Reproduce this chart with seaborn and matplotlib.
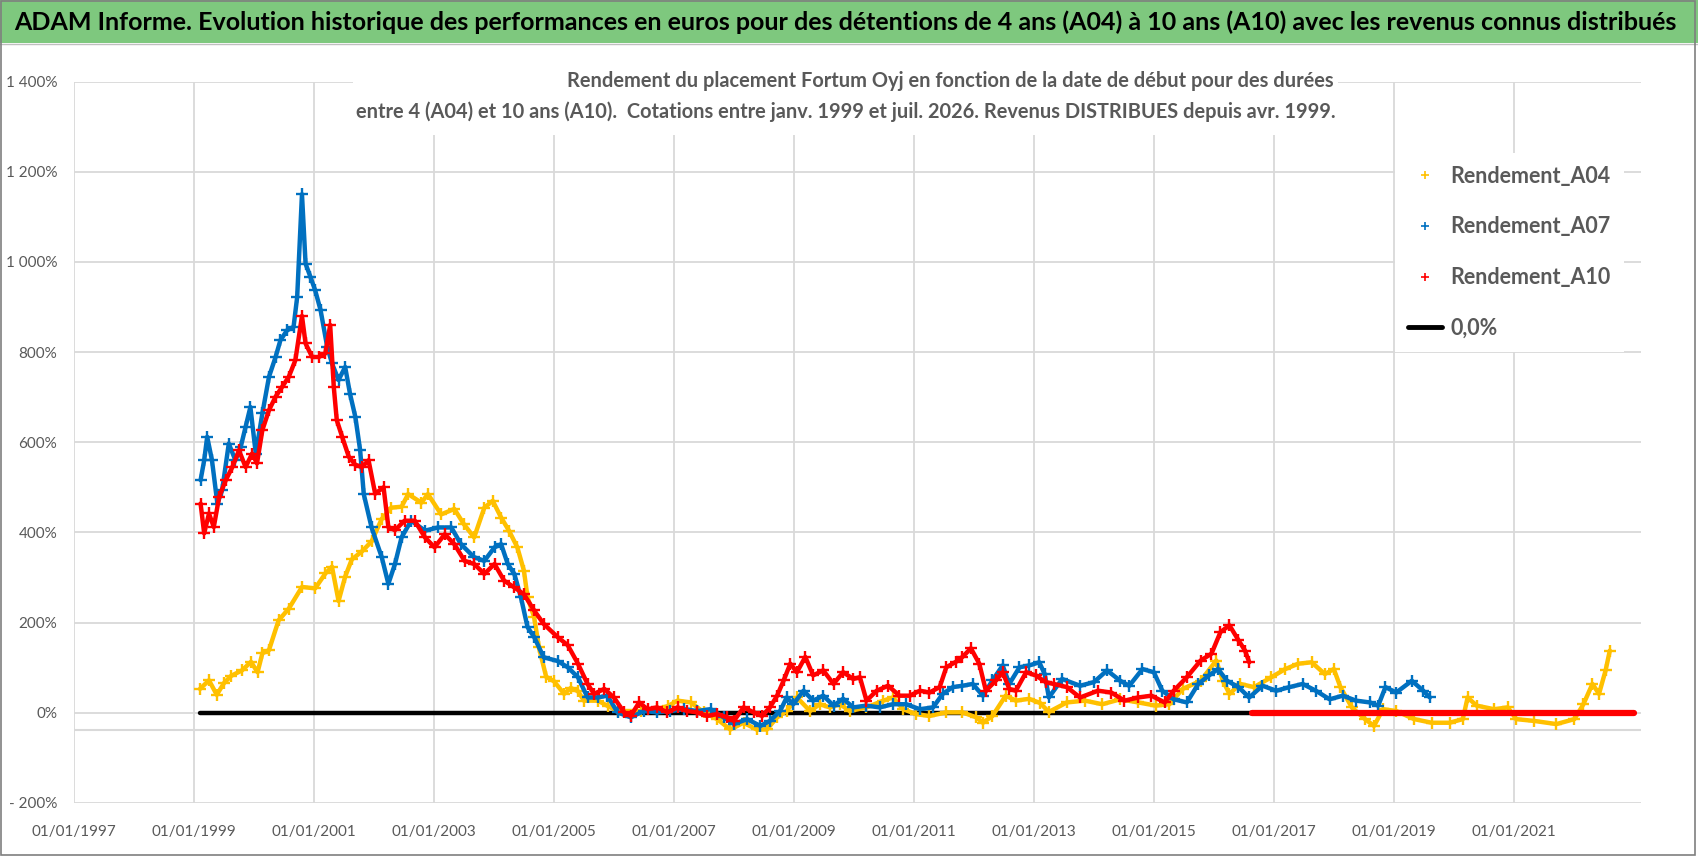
import numpy as np
import pandas as pd
import matplotlib
matplotlib.use("Agg")
import matplotlib.pyplot as plt
from matplotlib.lines import Line2D
from matplotlib.patches import Rectangle
from matplotlib.ticker import FuncFormatter
import seaborn as sns

# ---- data (x = decimal year of start date, y = return in %) ----
a04_dates = [1999.10, 1999.25, 1999.38, 1999.50, 1999.62, 1999.80, 1999.95, 2000.06, 2000.14, 2000.25,
             2000.41, 2000.58, 2000.80, 2001.02, 2001.19, 2001.30, 2001.41, 2001.52, 2001.63, 2001.80,
             2001.96, 2002.13, 2002.29, 2002.46, 2002.57, 2002.79, 2002.90, 2003.12, 2003.34, 2003.50,
             2003.67, 2003.84, 2003.98, 2004.12, 2004.25, 2004.39, 2004.50, 2004.56, 2004.67, 2004.75,
             2004.87, 2005.00, 2005.17, 2005.28, 2005.40, 2005.50, 2005.73, 2005.90, 2006.06, 2006.45,
             2006.72, 2006.90, 2007.06, 2007.28, 2007.50, 2007.72, 2007.94, 2008.16, 2008.38, 2008.55,
             2008.72, 2008.88, 2009.05, 2009.27, 2009.43, 2009.60, 2009.77, 2009.93, 2010.21, 2010.49,
             2010.65, 2010.82, 2011.04, 2011.26, 2011.54, 2011.81, 2012.04, 2012.15, 2012.31, 2012.53,
             2012.70, 2012.92, 2013.10, 2013.25, 2013.55, 2013.85, 2014.14, 2014.44, 2014.74, 2015.03,
             2015.26, 2015.48, 2015.78, 2016.04, 2016.15, 2016.26, 2016.44, 2016.67, 2016.96, 2017.19,
             2017.41, 2017.63, 2017.85, 2018.00, 2018.11, 2018.30, 2018.52, 2018.67, 2018.82, 2019.04,
             2019.34, 2019.63, 2019.93, 2020.15, 2020.23, 2020.38, 2020.67, 2020.90, 2021.04, 2021.34,
             2021.71, 2022.01, 2022.16, 2022.31, 2022.42, 2022.53, 2022.60]
a04_values = [53, 72, 40, 66, 82, 94, 113, 90, 132, 139,
              205, 231, 279, 276, 309, 324, 248, 302, 340, 358,
              380, 430, 455, 457, 485, 466, 485, 440, 452, 418,
              389, 455, 470, 433, 404, 367, 315, 256, 212, 145,
              80, 70, 42, 55, 48, 27, 27, 15, 4, 4,
              8, 15, 27, 23, 1, -14, -37, -22, -37, -37,
              -10, 4, 34, 4, 19, 12, 19, 4, 12, 27,
              34, 8, -3, -7, 1, 1, -10, -22, -7, 38,
              27, 31, 22, 2, 23, 27, 19, 30, 23, 16,
              19, 53, 71, 116, 71, 42, 64, 57, 79, 97,
              109, 112, 86, 97, 57, 12, -14, -29, 8, 4,
              -14, -22, -22, -14, 34, 16, 8, 12, -14, -18,
              -25, -14, 19, 64, 42, 94, 138]

a07_dates = [1999.11, 1999.17, 1999.22, 1999.30, 1999.39, 1999.47, 1999.58, 1999.69, 1999.78, 1999.86,
             1999.94, 2000.03, 2000.14, 2000.25, 2000.36, 2000.44, 2000.55, 2000.66, 2000.72, 2000.80,
             2000.86, 2000.94, 2001.02, 2001.11, 2001.22, 2001.30, 2001.41, 2001.52, 2001.60, 2001.69,
             2001.77, 2001.83, 2001.96, 2002.13, 2002.24, 2002.35, 2002.46, 2002.62, 2002.85, 2003.07,
             2003.29, 2003.45, 2003.67, 2003.84, 2004.01, 2004.12, 2004.23, 2004.34, 2004.45, 2004.56,
             2004.67, 2004.83, 2005.06, 2005.23, 2005.40, 2005.56, 2005.73, 2005.89, 2006.06, 2006.28,
             2006.50, 2006.72, 2006.94, 2007.17, 2007.39, 2007.61, 2007.83, 2008.00, 2008.22, 2008.44,
             2008.60, 2008.77, 2008.88, 2008.99, 2009.16, 2009.32, 2009.49, 2009.66, 2009.82, 2009.99,
             2010.21, 2010.43, 2010.65, 2010.87, 2011.10, 2011.32, 2011.48, 2011.65, 2011.81, 2011.98,
             2012.15, 2012.31, 2012.48, 2012.59, 2012.76, 2012.92, 2013.09, 2013.18, 2013.25, 2013.47,
             2013.77, 2014.00, 2014.22, 2014.44, 2014.59, 2014.81, 2015.00, 2015.14, 2015.33, 2015.55,
             2015.74, 2015.92, 2016.07, 2016.22, 2016.41, 2016.59, 2016.81, 2017.04, 2017.26, 2017.48,
             2017.70, 2017.93, 2018.15, 2018.37, 2018.60, 2018.74, 2018.86, 2019.04, 2019.30, 2019.49,
             2019.60]
a07_values = [516, 560, 612, 560, 464, 494, 597, 560, 590, 634,
              678, 575, 664, 745, 789, 826, 848, 856, 922, 1150,
              996, 967, 937, 893, 812, 775, 738, 767, 708, 656,
              582, 485, 411, 345, 286, 330, 389, 426, 404, 411,
              411, 374, 345, 337, 367, 374, 330, 308, 256, 190,
              168, 123, 115, 101, 79, 34, 34, 38, 1, -10,
              4, 1, 4, 8, 4, 8, -10, -25, -14, -29,
              -18, 4, 34, 19, 49, 27, 38, 16, 31, 12,
              16, 12, 19, 19, 8, 12, 42, 57, 60, 64,
              38, 72, 105, 64, 101, 105, 112, 86, 34, 75,
              60, 68, 94, 71, 60, 97, 90, 49, 30, 23,
              64, 83, 97, 71, 57, 34, 60, 49, 57, 64,
              49, 30, 38, 27, 23, 16, 57, 45, 71, 49,
              34]

a10_dates = [1999.11, 1999.17, 1999.25, 1999.33, 1999.42, 1999.53, 1999.64, 1999.75, 1999.86, 1999.97,
             2000.05, 2000.14, 2000.25, 2000.36, 2000.47, 2000.58, 2000.69, 2000.80, 2000.86, 2000.97,
             2001.08, 2001.19, 2001.27, 2001.33, 2001.38, 2001.47, 2001.58, 2001.69, 2001.80, 2001.91,
             2002.02, 2002.16, 2002.24, 2002.35, 2002.51, 2002.68, 2002.85, 2003.01, 2003.18, 2003.34,
             2003.51, 2003.67, 2003.84, 2004.01, 2004.17, 2004.34, 2004.50, 2004.67, 2004.83, 2005.06,
             2005.23, 2005.40, 2005.56, 2005.67, 2005.84, 2006.00, 2006.17, 2006.28, 2006.42, 2006.56,
             2006.72, 2006.89, 2007.06, 2007.22, 2007.39, 2007.55, 2007.72, 2007.89, 2008.00, 2008.16,
             2008.33, 2008.47, 2008.60, 2008.72, 2008.83, 2008.94, 2009.05, 2009.19, 2009.32, 2009.49,
             2009.66, 2009.82, 2009.99, 2010.10, 2010.21, 2010.38, 2010.57, 2010.76, 2010.93, 2011.10,
             2011.26, 2011.43, 2011.54, 2011.70, 2011.81, 2011.95, 2012.09, 2012.20, 2012.37, 2012.48,
             2012.59, 2012.70, 2012.87, 2013.03, 2013.20, 2013.33, 2013.55, 2013.77, 2014.07, 2014.29,
             2014.51, 2014.74, 2014.96, 2015.18, 2015.33, 2015.55, 2015.78, 2015.96, 2016.11, 2016.26,
             2016.41, 2016.52, 2016.59]
a10_values = [464, 398, 442, 412, 479, 516, 545, 582, 545, 575,
              553, 627, 671, 701, 723, 745, 782, 880, 819, 789,
              789, 797, 860, 723, 649, 612, 568, 550, 545, 560,
              486, 500, 412, 405, 426, 426, 389, 367, 396, 374,
              337, 330, 308, 330, 293, 278, 263, 227, 197, 168,
              150, 109, 64, 42, 53, 34, 1, -7, 23, 8,
              12, 1, 12, 4, 1, -7, -3, -10, -18, 12,
              1, -7, 12, 38, 72, 109, 90, 124, 83, 94,
              64, 90, 75, 79, 27, 49, 60, 38, 38, 49,
              45, 57, 101, 113, 124, 143, 109, 49, 72, 90,
              53, 49, 90, 83, 68, 64, 57, 34, 49, 45,
              27, 34, 38, 23, 49, 79, 116, 131, 179, 194,
              161, 138, 112]
# A10 returns are 0 for start dates without a full 10-year holding period
a10_zero_dates = [2016.63, 2023.00]
a10_zero_values = [0, 0]

zero_dates = [1999.10, 2023.00]
zero_values = [0, 0]

year_ticks = list(range(1997, 2023, 2))
pct_ticks = list(range(-200, 1401, 200))

title = ("ADAM Informe. Evolution historique des performances en euros pour des détentions "
         "de 4 ans (A04) à 10 ans (A10) avec les revenus connus distribués")
subtitle_1 = "Rendement du placement Fortum Oyj en fonction de la date de début pour des durées"
subtitle_2 = ("entre 4 (A04) et 10 ans (A10).  Cotations entre janv. 1999 et juil. 2026. "
              "Revenus DISTRIBUES depuis avr. 1999.")

YELLOW, BLUE, RED = "#FFC000", "#0070C0", "#FF0000"
GREY_TXT = "#595959"
GRID = "#D9D9D9"

sns.set_theme(style="white")
plt.rcParams["font.family"] = ["Lato", "DejaVu Sans"]

W, H = 1698, 856
fig = plt.figure(figsize=(W / 100, H / 100), dpi=100)
ax = fig.add_axes([74 / W, 1 - 803 / H, (1641 - 74) / W, (803 - 81.5) / H])

# zero reference line, then the three series
sns.lineplot(x=zero_dates, y=zero_values, ax=ax, color="black", lw=3.2, sort=False, zorder=2)

series = [(a04_dates, a04_values, YELLOW), (a07_dates, a07_values, BLUE), (a10_dates, a10_values, RED)]
for i, (d, v, c) in enumerate(series):
    df = pd.DataFrame({"date": d, "value": v})
    sns.lineplot(data=df, x="date", y="value", ax=ax, color=c, lw=3.2, sort=False,
                 marker="+", markersize=9, markeredgewidth=1.7, markeredgecolor=c, zorder=3 + i)

sns.lineplot(x=a10_zero_dates, y=a10_zero_values, ax=ax, color=RED, lw=4.5, sort=False, zorder=6)

ax.set_xlim(1997, 2023.12)
ax.set_ylim(-200, 1400)
ax.set_xticks(year_ticks)
ax.set_xticklabels([f"01/01/{y}" for y in year_ticks])
ax.set_yticks(pct_ticks)


def pct_fmt(v, pos):
    s = f"{abs(int(v)):,}".replace(",", " ") + "%"
    return "- " + s if v < 0 else s


ax.yaxis.set_major_formatter(FuncFormatter(pct_fmt))
ax.tick_params(axis="both", length=0, colors=GREY_TXT, labelsize=11)
ax.tick_params(axis="x", pad=16)
ax.tick_params(axis="y", pad=12)
ax.grid(True, color=GRID, lw=1.3)
ax.axhline(-38, color=GRID, lw=1.5, zorder=1)
for s in ax.spines.values():
    s.set_visible(False)
ax.set_xlabel("")
ax.set_ylabel("")

# white box behind the subtitle, hiding the gridlines there
ax.add_patch(Rectangle((353 / W, 1 - 135 / H), (1338 - 353) / W, 75 / H, transform=fig.transFigure,
                       facecolor="white", edgecolor="none", zorder=7))
sub1 = fig.text(1334 / W, 1 - 81 / H, subtitle_1, ha="right", va="center",
                fontsize=15, fontweight="bold", color=GREY_TXT)
sub2 = fig.text(1336 / W, 1 - 112 / H, subtitle_2, ha="right", va="center",
                fontsize=15, fontweight="bold", color=GREY_TXT)

# legend
handles = [Line2D([], [], ls="none", marker="+", color=YELLOW, markersize=6, markeredgewidth=1.2),
           Line2D([], [], ls="none", marker="+", color=BLUE, markersize=6, markeredgewidth=1.2),
           Line2D([], [], ls="none", marker="+", color=RED, markersize=6, markeredgewidth=1.2),
           Line2D([], [], color="black", lw=3.5)]
leg = ax.legend(handles, ["Rendement_A04", "Rendement_A07", "Rendement_A10", "0,0%"],
                loc="upper left", bbox_to_anchor=(1384 / W, 1 - 142 / H), bbox_transform=fig.transFigure,
                frameon=True, fancybox=False, edgecolor="none", facecolor="white", framealpha=1,
                prop={"weight": "bold", "size": 15.5}, labelcolor=GREY_TXT,
                handlelength=1.6, handletextpad=0.4, labelspacing=1.38, borderpad=0.6)
leg.set_zorder(8)

# title bar
fig.patches.append(Rectangle((0, 1 - 43 / H), 1, 43 / H, transform=fig.transFigure,
                             facecolor="#7EC87E", edgecolor="none", zorder=0))
fig.add_artist(Line2D([0, 1], [1 - 44 / H, 1 - 44 / H], transform=fig.transFigure, color="#BFBFBF", lw=1))
ttl = fig.text(845 / W, 1 - 22 / H, title, ha="center", va="center", fontsize=17,
               fontweight="bold", color="black")

# outer border
fig.patches.append(Rectangle((0.0005, 0.001), 0.998, 0.998, transform=fig.transFigure,
                             facecolor="none", edgecolor="#7F7F7F", lw=1.2, zorder=10))

# scale title texts to the widths seen in the reference
fig.canvas.draw()
r = fig.canvas.get_renderer()
w = ttl.get_window_extent(r).width
ttl.set_fontsize(ttl.get_fontsize() * 1663 / w)
w = sub2.get_window_extent(r).width
fs = sub2.get_fontsize() * 979 / w
sub1.set_fontsize(fs)
sub2.set_fontsize(fs)

fig.savefig("out.png", dpi=100)
